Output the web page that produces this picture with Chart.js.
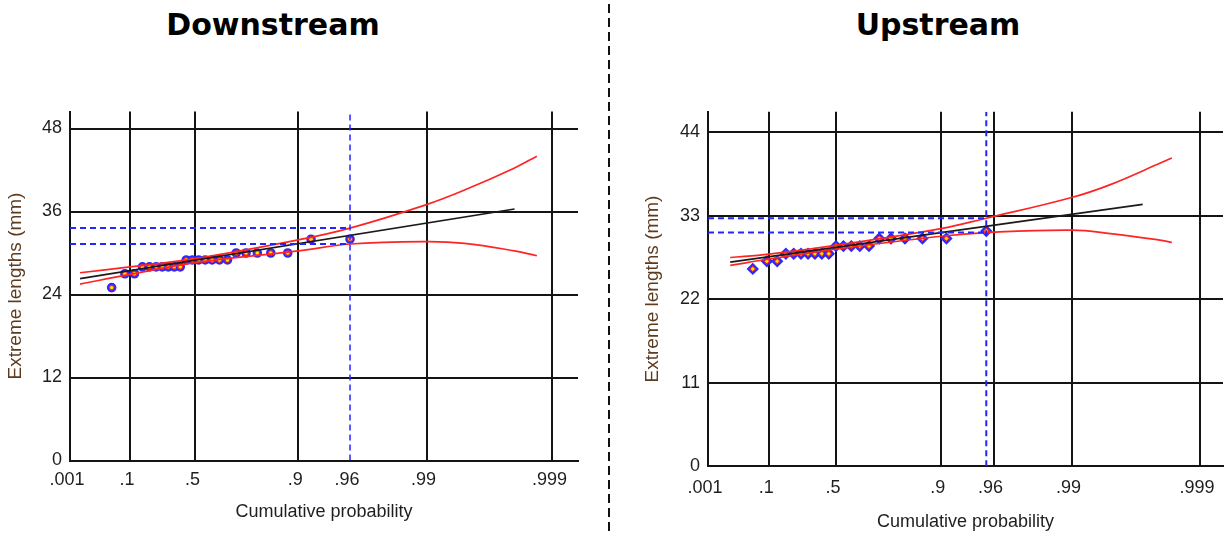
<!DOCTYPE html>
<html>
<head>
<meta charset="utf-8">
<script src="https://cdn.jsdelivr.net/npm/chart.js@4.4.0/dist/chart.umd.min.js"></script>
<style>
  html, body { margin:0; padding:0; background:#fff; overflow:hidden; }
  body { width:1225px; height:533px; position:relative; }
  .ptitle { position:absolute; top:10px; font-family:'DejaVu Sans', sans-serif; font-weight:bold; font-size:30px; line-height:30px; color:#000; transform:translateX(-50%); white-space:nowrap; }
  canvas { position:absolute; top:80px; }
  #divider { position:absolute; left:0; top:0; }
</style>
</head>
<body>
<div class="ptitle" style="left:273px">Downstream</div>
<div class="ptitle" style="left:938px">Upstream</div>
<svg id="divider" width="1225" height="533"><line x1="609" y1="4" x2="609" y2="533" stroke="#111" stroke-width="2" stroke-dasharray="9 5"/></svg>
<canvas id="cDown" width="600" height="453" style="left:0px"></canvas>
<canvas id="cUp" width="640" height="453" style="left:620px"></canvas>
<script>
// ---- axis tick labels ----
const xTickProbs  = [0.001, 0.1, 0.5, 0.9, 0.96, 0.99, 0.999];
const xTickLabels = ['.001', '.1', '.5', '.9', '.96', '.99', '.999'];
const downYTicks = [0, 12, 24, 36, 48];
const upYTicks   = [0, 11, 22, 33, 44];

// ---- Downstream data ----
const downProb = [0.04,0.08,0.12,0.16,0.20,0.24,0.28,0.32,0.36,0.40,0.44,0.48,0.52,0.56,0.60,0.64,0.68,0.72,0.76,0.80,0.84,0.88,0.92,0.96];
const downLen  = [25,27,27,28,28,28,28,28,28,28,29,29,29,29,29,29,29,30,30,30,30,30,32,32];
const downFitProb = [0.0032, 0.998];
const downFitVal  = [26.3, 36.36];
const downCIProb  = [0.0032, 0.1, 0.5, 0.9, 0.96, 0.99, 0.995, 0.998, 0.99867];
const downUpper   = [27.15, 28.0, 29.2, 31.9, 33.6, 37.0, 39.1, 42.3, 44.0];
const downLower   = [25.5, 26.9, 28.6, 30.3, 31.3, 31.65, 31.4, 30.3, 29.6];
const downRefProb = 0.96;
const downRefBounds = [33.6, 31.3];

// ---- Upstream data ----
const upProb = [0.0455,0.0909,0.1364,0.1818,0.2273,0.2727,0.3182,0.3636,0.4091,0.4545,0.5,0.5455,0.5909,0.6364,0.6818,0.7273,0.7727,0.8182,0.8636,0.9091,0.9545];
const upLen  = [26,27,27,28,28,28,28,28,28,28,29,29,29,29,29,30,30,30,30,30,31];
const upFitProb = [0.0097, 0.9972];
const upFitVal  = [26.9, 34.5];
const upCIProb  = [0.0097, 0.1, 0.5, 0.9, 0.9545, 0.99, 0.995, 0.998, 0.99834];
const upUpper   = [27.5, 27.95, 29.1, 31.3, 32.67, 35.4, 37.1, 40.0, 40.6];
const upLower   = [26.45, 27.3, 28.6, 30.3, 30.78, 31.1, 30.65, 29.75, 29.5];
const upRefProb = 0.9545;
const upRefBounds = [32.67, 30.78];

// Gumbel (extreme value) probability-paper transform of the x axis
const G = p => -Math.log(-Math.log(p));
const pairs = (probs, vals) => probs.map((p, i) => ({ x: G(p), y: vals[i] }));

const FONT = "'Liberation Sans', Arial, sans-serif";
const TXT = '#1e1e1e';
const GRID = '#141414';

function buildPanel(id, d) {
  const lineDs = (data, color, width, extra) => Object.assign({
    data, showLine: true, borderColor: color, backgroundColor: color,
    borderWidth: width, pointRadius: 0, pointHoverRadius: 0
  }, extra || {});
  const datasets = [
    { data: pairs(d.prob, d.len), showLine: false, pointStyle: d.marker, pointRadius: d.r1,
      pointBackgroundColor: '#ff2020', pointBorderColor: '#2a2aff', pointBorderWidth: 2, order: 6 },
    { data: pairs(d.prob, d.len), showLine: false, pointStyle: d.marker, pointRadius: d.r2,
      pointBackgroundColor: '#ffe800', pointBorderWidth: 0, order: 5 },
    lineDs(pairs(d.ciProb, d.upper), '#ff2424', 1.7, { tension: 0.4, order: 3 }),
    lineDs(pairs(d.ciProb, d.lower), '#ff2424', 1.7, { tension: 0.4, order: 3 }),
    lineDs(pairs(d.fitProb, d.fitVal), '#1a1a1a', 1.7, { order: 2 }),
  ];
  d.refBounds.forEach(v => datasets.push(
    lineDs([{ x: G(xTickProbs[0]), y: v }, { x: G(d.refProb), y: v }], '#2424ff', 2, { borderDash: [6, 4], order: 1 })
  ));
  datasets.push(lineDs([{ x: G(d.refProb), y: 0 }, { x: G(d.refProb), y: d.yMax }], '#2424ff', d.vWidth, { borderDash: [6, 4], order: 1 }));

  return new Chart(document.getElementById(id), {
    type: 'scatter',
    data: { datasets },
    options: {
      responsive: false, maintainAspectRatio: false, animation: false,
      layout: { padding: { top: d.padTop, right: d.padRight, left: 0, bottom: 0 } },
      plugins: { legend: { display: false }, tooltip: { enabled: false } },
      scales: {
        x: {
          type: 'linear', min: G(xTickProbs[0]), max: d.xMax,
          afterBuildTicks: s => { s.ticks = xTickProbs.map(p => ({ value: G(p) })); },
          afterFit: s => { s.height = d.xAxisH; },
          ticks: { callback: (v, i) => xTickLabels[i], autoSkip: false, maxRotation: 0,
                   font: { family: FONT, size: 18 }, color: TXT, padding: d.xTickPad, labelOffset: -3 },
          grid: { drawTicks: false, lineWidth: 2,
                  color: c => (d.hideGridProb && c.tick && Math.abs(c.tick.value - G(d.hideGridProb)) < 1e-6) ? 'rgba(0,0,0,0)' : GRID },
          border: { display: true, color: GRID, width: 2 },
          title: { display: true, text: 'Cumulative probability', color: TXT,
                   font: { family: FONT, size: 18, lineHeight: 1 }, padding: { top: 0, bottom: d.xTitlePad } }
        },
        y: {
          type: 'linear', min: 0, max: d.yMax,
          afterBuildTicks: s => { s.ticks = d.yTicks.map(v => ({ value: v })); },
          afterFit: s => { s.width = d.yAxisW; },
          ticks: { font: { family: FONT, size: 18 }, color: TXT, padding: 8 },
          grid: { drawTicks: false, lineWidth: 2, color: GRID },
          border: { display: true, color: GRID, width: 2 },
          title: { display: true, text: 'Extreme lengths (mm)', color: '#5c3b1e',
                   font: { family: FONT, size: 19, lineHeight: 1 }, padding: { top: d.yTitlePad, bottom: 0 } }
        }
      }
    }
  });
}

buildPanel('cDown', {
  prob: downProb, len: downLen, fitProb: downFitProb, fitVal: downFitVal,
  ciProb: downCIProb, upper: downUpper, lower: downLower,
  refProb: downRefProb, refBounds: downRefBounds, yTicks: downYTicks,
  marker: 'circle', r1: 3.8, r2: 1.7, vWidth: 1.5, hideGridProb: 0.96,
  yMax: 50.46, xMax: 7.376, padTop: 31.5, padRight: 22, xAxisH: 72.5, yAxisW: 70,
  xTickPad: 8.7, xTitlePad: 12.3, yTitlePad: 6.3
});

buildPanel('cUp', {
  prob: upProb, len: upLen, fitProb: upFitProb, fitVal: upFitVal,
  ciProb: upCIProb, upper: upUpper, lower: upLower,
  refProb: upRefProb, refBounds: upRefBounds, yTicks: upYTicks,
  marker: 'rectRot', r1: 4.8, r2: 2.0, vWidth: 2, hideGridProb: null,
  yMax: 46.7, xMax: 7.32, padTop: 31.7, padRight: 37, xAxisH: 66.7, yAxisW: 88,
  xTickPad: 11.2, xTitlePad: 2.3, yTitlePad: 23.5
});
</script>
</body>
</html>
